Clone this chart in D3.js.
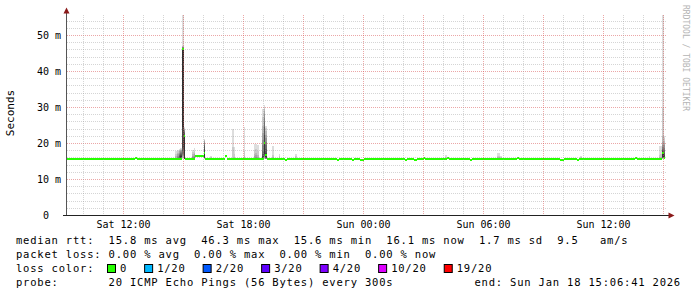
<!DOCTYPE html>
<html>
<head>
<meta charset="utf-8">
<script src="https://cdn.jsdelivr.net/npm/d3@7"></script>
<style>
  body { margin: 0; background: #fff; }
  svg { display: block; }
  text { font-family: "DejaVu Sans Mono", monospace; white-space: pre; }
</style>
</head>
<body>
<svg id="chart" width="697" height="297"></svg>
<script>
/* ---- data (rtt in ms) ---- */
const startTime = new Date(2026, 0, 17, 9, 6, 41);
const endTime   = new Date(2026, 0, 18, 15, 6, 41);
const stepMinutes = 5;
const yMax = 55.56;            // smokeping upper limit = 1.2 * max median
const baseMedian = 15.8;

// steps where the median leaves its usual level
const medianTimes = [
  "2026-01-17 12:35", "2026-01-17 14:55", "2026-01-17 15:00",
  "2026-01-17 15:35", "2026-01-17 15:40", "2026-01-17 15:45", "2026-01-17 15:50", "2026-01-17 15:55",
  "2026-01-17 16:00", "2026-01-17 17:05", "2026-01-17 19:00", "2026-01-17 19:05",
  "2026-01-17 20:05", "2026-01-17 22:40", "2026-01-17 23:25", "2026-01-17 23:50", "2026-01-17 23:55",
  "2026-01-18 02:05", "2026-01-18 02:30", "2026-01-18 02:35", "2026-01-18 03:00", "2026-01-18 04:10",
  "2026-01-18 05:20", "2026-01-18 07:40", "2026-01-18 09:50", "2026-01-18 09:55", "2026-01-18 10:40",
  "2026-01-18 13:35", "2026-01-18 14:55", "2026-01-18 15:00"
];
const medianValues = [
  16.1, 46.3, 22.0,
  16.6, 16.6, 16.6, 16.6, 16.6,
  17.5, 16.5, 20.1, 16.8,
  15.5, 15.5, 15.5, 15.5, 15.5,
  15.5, 15.5, 15.5, 16.1, 16.1,
  15.5, 16.1, 15.5, 15.5, 15.5,
  16.1, 17.5, 16.1
];

// steps with visible smoke: the 20 pings of the step, sorted
const smokeTimes = [
  "2026-01-17 14:35", "2026-01-17 14:40", "2026-01-17 14:45", "2026-01-17 14:50", "2026-01-17 14:55", "2026-01-17 15:00",
  "2026-01-17 15:25", "2026-01-17 15:30", "2026-01-17 16:00", "2026-01-17 16:20",
  "2026-01-17 17:25", "2026-01-17 17:30", "2026-01-17 18:00",
  "2026-01-17 18:30", "2026-01-17 18:35", "2026-01-17 18:40",
  "2026-01-17 18:55", "2026-01-17 19:00", "2026-01-17 19:05",
  "2026-01-17 19:25", "2026-01-17 19:45", "2026-01-17 20:35",
  "2026-01-18 04:05", "2026-01-18 06:40", "2026-01-18 06:45", "2026-01-18 06:50",
  "2026-01-18 10:50", "2026-01-18 14:15", "2026-01-18 14:45", "2026-01-18 14:50",
  "2026-01-18 14:55", "2026-01-18 15:00"
];
const smokePings = [
  [15.6,15.6,15.7,15.7,15.7,15.7,15.8,15.8,15.8,15.8,15.8,15.8,15.9,15.9,15.9,16.0,16.1,16.4,17.0,18.0],
  [15.6,15.7,15.7,15.7,15.8,15.8,15.8,15.8,15.8,15.8,15.9,15.9,16.0,16.1,16.3,16.6,17.0,17.4,17.8,18.2],
  [15.6,15.7,15.7,15.8,15.8,15.8,15.8,15.9,15.9,16.0,16.1,16.3,16.6,16.9,17.2,17.5,17.8,18.0,18.2,18.4],
  [15.6,15.7,15.7,15.8,15.8,15.8,15.9,15.9,16.0,16.2,16.5,16.8,17.0,17.3,17.6,17.9,18.1,18.3,18.5,18.7],
  [15.8,15.9,16.0,16.2,16.4,16.8,17.2,17.8,18.8,24.7,46.3,46.4,46.5,46.6,46.7,46.8,46.9,47.0,47.2,60.0],
  [15.6,15.7,15.7,15.7,15.7,15.8,15.8,15.8,15.8,15.8,22.0,22.4,22.8,23.1,23.4,23.7,23.9,24.1,24.3,24.6],
  [15.6,15.7,15.7,15.7,15.8,15.8,15.8,15.8,15.8,15.8,15.8,15.9,15.9,15.9,16.0,16.2,16.5,17.0,17.6,18.3],
  [15.6,15.7,15.7,15.8,15.8,15.8,15.8,15.8,15.8,15.9,15.9,15.9,16.0,16.1,16.3,16.6,17.0,17.5,18.0,18.8],
  [15.7,15.8,15.8,15.9,15.9,16.0,16.0,16.1,16.1,16.2,17.5,18.5,19.2,19.7,20.1,20.4,20.7,20.9,21.1,21.3],
  [15.6,15.7,15.7,15.7,15.8,15.8,15.8,15.8,15.8,15.8,15.8,15.8,15.9,15.9,15.9,15.9,16.0,16.1,16.3,16.6],
  [15.6,15.7,15.7,15.7,15.8,15.8,15.8,15.8,15.8,15.8,15.8,15.8,15.9,15.9,15.9,16.0,16.0,16.1,19.0,24.0],
  [15.6,15.7,15.7,15.7,15.8,15.8,15.8,15.8,15.8,15.8,15.8,15.8,15.9,15.9,15.9,16.0,16.1,16.3,17.0,19.0],
  [15.6,15.7,15.7,15.7,15.8,15.8,15.8,15.8,15.8,15.8,15.8,15.8,15.9,15.9,15.9,16.0,16.1,16.6,18.0,24.7],
  [15.6,15.7,15.7,15.7,15.8,15.8,15.8,15.8,15.8,15.8,15.8,15.8,15.9,15.9,16.0,16.1,16.4,17.0,18.2,20.0],
  [15.6,15.7,15.7,15.7,15.8,15.8,15.8,15.8,15.8,15.8,15.8,15.9,15.9,16.0,16.1,16.3,16.7,17.5,18.6,20.0],
  [15.6,15.7,15.7,15.7,15.8,15.8,15.8,15.8,15.8,15.8,15.8,15.8,15.9,15.9,15.9,16.0,16.2,16.8,17.8,19.5],
  [15.6,15.7,15.7,15.8,15.8,15.8,15.9,15.9,15.9,16.0,16.0,16.4,17.0,18.0,19.5,21.0,23.0,25.0,27.5,29.5],
  [15.7,15.8,15.9,16.0,16.2,16.4,16.6,16.8,17.0,17.2,20.1,22.5,24.5,26.0,27.2,28.2,29.0,29.7,30.2,30.7],
  [15.6,15.7,15.7,15.8,15.8,15.8,15.9,15.9,16.0,16.2,16.8,17.5,18.5,19.5,20.5,21.5,22.5,23.5,24.3,25.0],
  [15.6,15.7,15.7,15.7,15.8,15.8,15.8,15.8,15.8,15.8,15.8,15.8,15.9,15.9,15.9,16.0,16.0,16.2,16.8,19.4],
  [15.6,15.7,15.7,15.7,15.8,15.8,15.8,15.8,15.8,15.8,15.8,15.8,15.9,15.9,15.9,15.9,16.0,16.1,16.5,17.2],
  [15.6,15.7,15.7,15.7,15.8,15.8,15.8,15.8,15.8,15.8,15.8,15.8,15.9,15.9,15.9,15.9,16.0,16.1,16.4,17.0],
  [15.6,15.7,15.7,15.7,15.8,15.8,15.8,15.8,15.8,15.8,15.8,15.8,15.9,15.9,15.9,15.9,15.9,16.0,16.2,16.9],
  [15.6,15.7,15.7,15.7,15.8,15.8,15.8,15.8,15.8,15.8,15.8,15.8,15.9,15.9,15.9,15.9,16.0,16.2,16.6,17.3],
  [15.6,15.7,15.7,15.7,15.8,15.8,15.8,15.8,15.8,15.8,15.8,15.8,15.9,15.9,15.9,15.9,16.0,16.2,16.6,17.3],
  [15.6,15.7,15.7,15.7,15.8,15.8,15.8,15.8,15.8,15.8,15.8,15.8,15.9,15.9,15.9,15.9,15.9,16.0,16.2,16.5],
  [15.6,15.7,15.7,15.7,15.8,15.8,15.8,15.8,15.8,15.8,15.8,15.8,15.9,15.9,15.9,15.9,15.9,16.0,16.2,16.5],
  [15.6,15.7,15.7,15.7,15.8,15.8,15.8,15.8,15.8,15.8,15.8,15.8,15.9,15.9,15.9,15.9,15.9,16.0,16.1,16.4],
  [15.6,15.7,15.7,15.7,15.8,15.8,15.8,15.8,15.8,15.8,15.8,15.8,15.9,15.9,15.9,15.9,16.0,16.2,16.8,19.4],
  [15.6,15.7,15.7,15.7,15.8,15.8,15.8,15.8,15.8,15.8,15.8,15.8,15.9,15.9,15.9,16.0,16.0,16.3,17.2,19.4],
  [15.7,15.8,15.8,15.9,15.9,16.0,16.0,16.1,16.2,16.3,17.5,18.0,18.3,18.6,19.0,19.5,20.5,22.0,30.0,60.0],
  [15.6,15.7,15.7,15.8,15.8,15.8,15.9,15.9,16.0,16.0,16.1,16.8,17.5,18.2,18.8,19.5,20.2,20.8,21.4,22.0]
];

const xLabelHours = 6;
const yTicks = [0, 10, 20, 30, 40, 50];
const lossLabels = ["0", "1/20", "2/20", "3/20", "4/20", "10/20", "19/20"];
const lossColors = ["#26ff00", "#00b8ff", "#0059ff", "#5e00ff", "#7e00ff", "#dd00ff", "#ff0000"];
const legendRtt  = "median rtt:  15.8 ms avg  46.3 ms max  15.6 ms min  16.1 ms now  1.7 ms sd  9.5   am/s";
const legendLoss = "packet loss: 0.00 % avg  0.00 % max  0.00 % min  0.00 % now";
const legendProbe = "probe:       20 ICMP Echo Pings (56 Bytes) every 300s";
const legendEnd = "end: Sun Jan 18 15:06:41 2026";

/* ---- setup ---- */
const svg = d3.select('#chart');
const parse = d3.timeParse('%Y-%m-%d %H:%M');
const x = d3.scaleTime().domain([startTime, endTime]).range([66, 666]);
const y = d3.scaleLinear().domain([0, yMax]).range([215.5, 15.5]);
const step = d3.timeMinute.every(stepMinutes);

svg.append('rect').attr('width', 697).attr('height', 297).attr('fill', '#fff');
svg.append('clipPath').attr('id', 'plot')
  .append('rect').attr('x', 67).attr('y', 15).attr('width', 599).attr('height', 200);

const plot = svg.append('g').attr('clip-path', 'url(#plot)');

/* --- smoke: layer k spans ping k .. ping 21-k, darker toward the middle --- */
smokeTimes.forEach((ts, i) => {
  const t0 = parse(ts), t1 = d3.timeMinute.offset(t0, stepMinutes);
  const p = smokePings[i];
  for (let k = 0; k < 10; k++) {
    const c = 19 * (9 - k) + 50;
    plot.append('rect')
      .attr('x', x(t0)).attr('width', x(t1) - x(t0))
      .attr('y', y(p[19 - k])).attr('height', Math.max(0, y(p[k]) - y(p[19 - k])))
      .attr('fill', d3.rgb(c, c, c))
      .attr('shape-rendering', 'crispEdges');
  }
});

/* --- grid --- */
const grid = svg.append('g');
const gridColor = major => major ? 'rgba(215,80,80,0.5)' : 'rgba(150,150,150,0.4)';
d3.range(2, yMax, 2).forEach(v => {
  const yy = Math.floor(y(v)) + 0.5;
  grid.append('line').attr('x1', 67).attr('x2', 666).attr('y1', yy).attr('y2', yy)
    .attr('stroke', gridColor(v % 10 === 0)).attr('stroke-dasharray', '1,1');
});
d3.timeHour.range(startTime, endTime).forEach(t => {
  const xx = Math.floor(x(t)) + 0.5;
  grid.append('line').attr('x1', xx).attr('x2', xx).attr('y1', 15).attr('y2', 215)
    .attr('stroke', gridColor(t.getHours() % 3 === 0)).attr('stroke-dasharray', '1,1');
});

/* --- median band (2px tall, one per step) --- */
const medianMap = new Map(medianTimes.map((ts, i) => [+parse(ts), medianValues[i]]));
const steps = step.range(step.floor(startTime), d3.timeMinute.offset(endTime, -stepMinutes));
const band = steps.map(t => ({ t, v: medianMap.has(+t) ? medianMap.get(+t) : baseMedian }));
band.push({ t: d3.timeMinute.offset(steps[steps.length - 1], stepMinutes), v: band[band.length - 1].v });
plot.append('path')
  .datum(band)
  .attr('fill', lossColors[0])
  .attr('shape-rendering', 'crispEdges')
  .attr('d', d3.area().curve(d3.curveStepAfter)
    .x(d => x(d.t)).y0(d => y(d.v) + 1).y1(d => y(d.v) - 1));

/* --- axes --- */
const arrow = '#8b1a1a';
svg.append('line').attr('x1', 66.5).attr('x2', 66.5).attr('y1', 216).attr('y2', 12).attr('stroke', '#555');
svg.append('line').attr('x1', 63).attr('x2', 669).attr('y1', 215.5).attr('y2', 215.5).attr('stroke', '#222');
svg.append('path').attr('d', 'M63.5,13.5L66.5,7.5L69.5,13.5Z').attr('fill', arrow);
svg.append('path').attr('d', 'M668.5,212.5L674.5,215.5L668.5,218.5Z').attr('fill', arrow);

d3.timeHour.range(startTime, endTime).filter(t => t.getHours() % xLabelHours === 0).forEach(t => {
  svg.append('text').attr('x', Math.floor(x(t)) + 0.5).attr('y', 227.5)
    .attr('text-anchor', 'middle').attr('font-size', 10).attr('fill', '#000')
    .text(d3.timeFormat('%a %H:%M')(t));
});
yTicks.forEach(v => {
  svg.append('text').attr('x', 61).attr('y', Math.floor(y(v)) + 4)
    .attr('text-anchor', 'end').attr('font-size', 10).attr('fill', '#000')
    .text(v === 0 ? '0  ' : `${v} m`);
});

svg.append('text').attr('transform', 'translate(14,113) rotate(-90)')
  .attr('text-anchor', 'middle').attr('font-size', 11).attr('fill', '#000').text('Seconds');
svg.append('text').attr('transform', 'translate(683,5) rotate(90)')
  .attr('font-size', 8).attr('fill', '#b4b4b4').text('RRDTOOL / TOBI OETIKER');

/* --- legend --- */
const leg = svg.append('g').attr('font-size', 10.5).attr('letter-spacing', 0.8).attr('fill', '#000');
leg.append('text').attr('x', 16).attr('y', 244).text(legendRtt);
leg.append('text').attr('x', 16).attr('y', 258).text(legendLoss);
leg.append('text').attr('x', 16).attr('y', 272).text('loss color:');
leg.append('text').attr('x', 16).attr('y', 286).text(legendProbe);
leg.append('text').attr('x', 681).attr('y', 286).attr('text-anchor', 'end').text(legendEnd);

let lx = 107;
lossLabels.forEach((lab, i) => {
  leg.append('rect').attr('x', lx + 0.5).attr('y', 264.5).attr('width', 8).attr('height', 8)
    .attr('fill', lossColors[i]).attr('stroke', '#000');
  const tx = leg.append('text').attr('x', lx + 13).attr('y', 272).text(lab);
  lx += 13 + tx.node().getComputedTextLength() + 17;
});
</script>
</body>
</html>
